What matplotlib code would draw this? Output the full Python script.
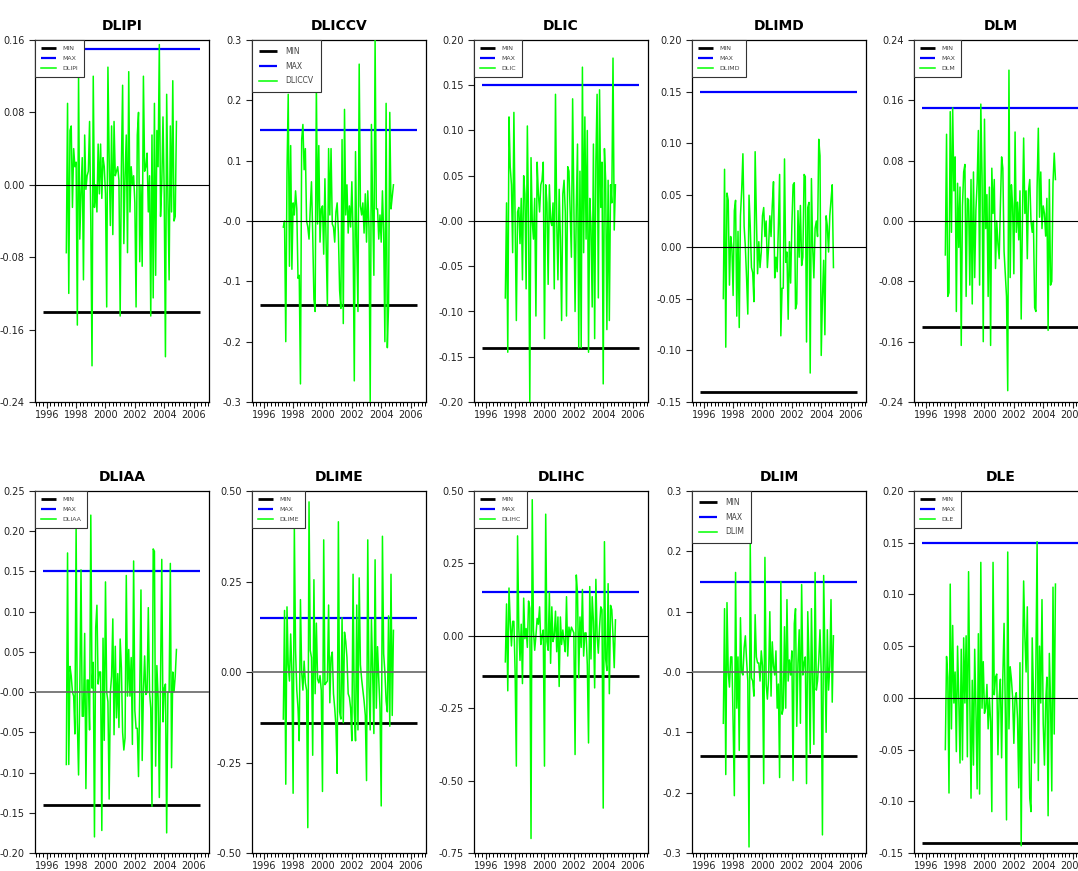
import matplotlib
matplotlib.use('Agg')
import matplotlib.pyplot as plt
from matplotlib.ticker import FixedLocator, FixedFormatter, MultipleLocator
import numpy as np
import pandas as pd

# monthly observations, May 1997 onwards
start_month = '1997-05'

min_level = -0.14
max_level = 0.15
band_start = 1995.75
band_end = 2006.45

names = ['DLIPI', 'DLICCV', 'DLIC', 'DLIMD', 'DLM',
         'DLIAA', 'DLIME', 'DLIHC', 'DLIM', 'DLE']

dlipi = [-0.075, 0.09, -0.12, 0.06, 0.065, -0.025, 0.04, 0.02,
         0.025, -0.155, 0.12, -0.06, -0.01, 0.03, -0.105, 0.055, -0.005, 0.01, 0.015, 0.07,
         -0.04, -0.2, 0.12, -0.025, 0.0, -0.03, 0.045, -0.01, 0.045, -0.015, 0.03, 0.02,
         -0.01, -0.135, 0.13, 0.03, -0.045, 0.065, -0.055, 0.07, 0.01, 0.015, 0.02, 0.005,
         -0.145, 0.02, 0.11, -0.065, 0.01, 0.055, -0.075, 0.125, -0.03, 0.02, 0.0, 0.01,
         -0.02, -0.135, 0.055, 0.08, -0.085, 0.0, -0.09, 0.12, 0.015, 0.02, 0.035, -0.03,
         0.01, -0.145, 0.055, -0.125, 0.09, -0.1, 0.06, 0.02, 0.155, -0.035, 0.0, 0.075,
         -0.01, -0.19, 0.1, -0.01, -0.105, 0.065, -0.03, 0.115, -0.04, -0.035, 0.07]

dliccv = [-0.01, 0.0, -0.2, 0.08, 0.21, -0.075, 0.125, -0.08,
          0.03, 0.01, 0.05, 0.02, -0.095, -0.09, -0.27, 0.135, 0.16, 0.085, 0.12, 0.0,
          -0.01, -0.03, 0.02, 0.065, -0.02, -0.13, -0.15, 0.225, -0.005, 0.125, -0.035, 0.02,
          0.025, -0.055, 0.07, -0.04, -0.14, 0.12, 0.01, 0.12, -0.005, -0.01, -0.035, 0.015,
          0.03, -0.02, -0.115, -0.145, 0.135, -0.17, 0.185, 0.01, 0.06, -0.02, 0.025, -0.01,
          0.065, -0.02, -0.265, 0.115, -0.04, -0.15, 0.26, 0.025, 0.01, 0.03, -0.02, 0.045,
          -0.035, 0.05, -0.01, -0.3, 0.16, 0.02, -0.09, 0.3, 0.02, 0.02, -0.03, 0.01,
          -0.035, 0.05, -0.02, -0.2, 0.195, -0.21, -0.14, 0.18, 0.02, 0.04, 0.06]

dlic = [-0.085, 0.02, -0.145, 0.115, 0.06, 0.04, -0.035, 0.12,
        0.0, -0.11, 0.01, 0.015, -0.025, 0.025, -0.065, 0.05, 0.03, -0.075, 0.105, 0.0,
        -0.2, 0.07, 0.0, -0.02, 0.025, -0.105, 0.065, 0.03, 0.01, 0.04, 0.045, 0.065,
        -0.13, 0.04, 0.02, -0.07, 0.04, 0.0, -0.005, 0.02, -0.075, 0.14, 0.0, -0.065,
        0.035, -0.02, -0.11, 0.03, 0.045, 0.01, -0.105, 0.06, 0.055, 0.01, -0.04, 0.135,
        0.02, -0.1, 0.015, 0.085, -0.14, 0.055, -0.14, 0.17, -0.035, 0.115, -0.02, 0.1,
        -0.145, 0.025, -0.005, -0.095, 0.085, -0.13, 0.065, 0.14, -0.085, 0.145, 0.015, 0.065,
        -0.18, 0.08, 0.045, -0.12, 0.045, -0.11, 0.04, 0.02, 0.18, -0.01, 0.04]

dlimd = [-0.05, 0.075, -0.097, 0.052, 0.045, -0.037, 0.01, 0.0,
         -0.047, 0.035, 0.045, -0.067, 0.015, -0.078, 0.03, 0.055, 0.09, 0.02, 0.0, -0.03,
         -0.065, 0.05, 0.02, -0.02, -0.025, -0.053, 0.092, 0.03, -0.026, 0.005, -0.02, -0.005,
         0.03, 0.038, 0.01, 0.025, -0.02, 0.0, 0.03, 0.01, 0.04, 0.063, -0.03, -0.01,
         -0.024, 0.02, 0.07, -0.086, -0.04, -0.04, 0.085, -0.015, -0.005, -0.07, 0.005, -0.035,
         0.02, 0.06, 0.062, -0.06, -0.055, 0.035, -0.01, 0.04, -0.018, -0.01, 0.07, 0.068,
         -0.092, 0.038, 0.043, -0.122, 0.066, 0.0, -0.03, 0.018, 0.025, 0.01, 0.104, 0.088,
         -0.105, -0.05, -0.013, -0.085, 0.03, 0.02, -0.005, 0.03, 0.045, 0.06, -0.02]

dlm = [-0.045, 0.115, -0.1, -0.095, 0.145, -0.015, 0.15, 0.04,
       0.085, -0.12, 0.05, -0.035, 0.045, -0.165, 0.02, 0.065, 0.075, -0.1, 0.03, 0.028,
       -0.085, 0.055, -0.11, 0.065, -0.075, 0.015, 0.05, 0.12, -0.085, 0.155, 0.06, -0.16,
       0.135, -0.01, 0.035, -0.1, 0.045, -0.165, 0.07, 0.01, 0.055, -0.063, 0.0, -0.03,
       -0.05, 0.02, 0.085, 0.07, -0.04, -0.07, -0.1, -0.225, 0.2, -0.075, 0.048, 0.02,
       -0.07, 0.118, -0.015, 0.025, -0.025, 0.04, -0.13, 0.0, 0.11, 0.01, 0.04, -0.05,
       0.04, 0.055, 0.0, -0.015, 0.0, -0.115, -0.12, 0.045, 0.123, 0.005, 0.065, -0.01,
       0.02, 0.01, -0.02, 0.03, -0.145, 0.055, -0.085, -0.08, 0.05, 0.09, 0.055]

dliaa = [-0.09, 0.173, -0.09, 0.032, 0.02, 0.0, -0.005, -0.052,
         0.205, -0.037, -0.103, 0.0, 0.152, -0.03, -0.03, 0.073, -0.12, 0.015, 0.015, -0.047,
         0.22, 0.005, 0.037, -0.18, 0.08, 0.108, 0.01, 0.025, 0.025, -0.172, 0.067, -0.06,
         0.137, 0.0, -0.012, -0.133, 0.0, 0.02, 0.091, -0.053, 0.057, -0.032, 0.023, -0.044,
         0.066, 0.03, -0.05, -0.072, -0.057, 0.145, -0.005, 0.053, -0.005, 0.043, -0.065, 0.163,
         -0.023, -0.045, -0.045, -0.105, 0.0, 0.127, -0.085, 0.0, 0.045, -0.003, 0.0, 0.105,
         0.0, -0.02, -0.142, 0.178, 0.175, -0.092, 0.033, -0.006, -0.131, 0.015, 0.165, -0.037,
         0.005, 0.01, -0.175, 0.0, 0.0, 0.16, -0.094, 0.025, 0.0, 0.02, 0.053]

dlime = [-0.13, 0.17, -0.31, 0.18, 0.02, -0.025, 0.105, 0.0,
         -0.335, 0.4, 0.06, -0.05, -0.1, -0.19, 0.2, 0.0, -0.05, 0.03, -0.03, -0.05,
         -0.43, 0.47, 0.06, 0.04, -0.23, 0.255, -0.06, 0.135, -0.02, -0.03, -0.01, -0.05,
         -0.33, 0.365, -0.035, -0.03, -0.025, 0.185, -0.085, 0.04, 0.055, -0.06, -0.1, -0.15,
         -0.28, 0.415, -0.11, -0.13, 0.15, -0.14, 0.11, 0.085, 0.04, -0.06, -0.07, -0.1,
         -0.19, 0.27, -0.11, -0.19, 0.185, -0.16, 0.26, 0.02, -0.02, -0.05, -0.08, -0.12,
         -0.3, 0.365, -0.04, -0.16, 0.145, 0.0, -0.17, 0.31, -0.1, 0.07, -0.02, -0.1,
         -0.37, 0.375, 0.05, 0.0, -0.08, -0.11, 0.155, -0.15, 0.27, -0.12, 0.115]

dlihc = [-0.09, 0.11, -0.19, 0.165, 0.05, -0.035, 0.05, 0.05,
         -0.125, -0.45, 0.345, 0.03, -0.085, 0.04, -0.165, 0.13, -0.01, 0.025, -0.04, 0.12,
         0.095, -0.7, 0.47, 0.02, -0.05, 0.0, 0.06, 0.04, 0.1, -0.03, 0.0, 0.02,
         -0.45, 0.42, -0.02, -0.05, 0.15, -0.095, 0.1, -0.02, 0.0, 0.085, -0.055, 0.065,
         -0.175, 0.065, -0.03, 0.02, -0.02, -0.055, 0.135, -0.07, 0.03, 0.0, 0.03, 0.02,
         0.01, -0.41, 0.21, 0.145, -0.145, 0.065, -0.04, 0.16, -0.07, 0.01, 0.01, -0.1,
         -0.37, 0.17, -0.08, 0.135, 0.05, -0.18, 0.195, 0.0, -0.06, 0.03, 0.1, 0.09,
         -0.595, 0.325, -0.08, -0.12, 0.18, -0.2, 0.105, 0.09, 0.0, -0.11, 0.055]

dlim = [-0.085, 0.105, -0.17, 0.115, 0.0, -0.025, 0.025, 0.025,
        -0.085, -0.205, 0.165, -0.06, 0.025, -0.13, 0.09, 0.0, -0.005, 0.04, 0.06, 0.02,
        -0.015, -0.29, 0.215, -0.01, -0.015, -0.04, 0.095, 0.025, 0.015, 0.015, -0.015, 0.035,
        0.01, -0.185, 0.19, -0.02, -0.045, -0.01, 0.1, -0.04, 0.05, 0.01, -0.005, 0.035,
        -0.06, -0.02, -0.175, 0.15, -0.07, -0.06, 0.075, -0.06, 0.12, -0.015, 0.02, -0.005,
        0.035, -0.18, 0.08, 0.105, -0.09, 0.015, 0.07, -0.085, 0.145, -0.005, 0.015, 0.025,
        -0.185, 0.1, 0.02, -0.135, 0.105, -0.015, -0.12, 0.165, -0.03, -0.015, 0.02, 0.07,
        0.0, -0.27, 0.16, 0.025, -0.1, 0.07, -0.03, 0.01, 0.12, -0.05, 0.06]

dle = [-0.05, 0.04, 0.02, -0.092, 0.11, -0.03, 0.07, -0.005,
       0.025, -0.052, 0.05, 0.0, -0.063, 0.047, -0.06, 0.058, -0.005, 0.06, -0.057, 0.122,
       0.0, -0.097, 0.017, -0.065, 0.047, -0.01, -0.088, 0.062, -0.093, 0.131, -0.01, 0.035,
       -0.015, -0.01, 0.013, -0.03, 0.0, -0.023, -0.11, 0.131, 0.003, 0.02, 0.023, -0.055,
       0.0, 0.018, -0.058, 0.02, 0.072, -0.01, -0.118, 0.141, -0.03, 0.03, 0.018, 0.0,
       -0.044, 0.0, 0.005, -0.02, -0.087, 0.034, -0.143, 0.015, 0.113, 0.06, 0.025, 0.088,
       -0.02, -0.097, -0.11, 0.058, 0.005, -0.063, 0.03, 0.151, -0.08, 0.05, -0.005, 0.095,
       -0.025, -0.065, -0.005, 0.02, -0.114, 0.043, -0.005, -0.09, 0.107, -0.035, 0.11]

series = [dlipi, dliccv, dlic, dlimd, dlm, dliaa, dlime, dlihc, dlim, dle]

# y axis: (bottom, top, step, decimals, label shown at zero)
y_scales = [(-0.24, 0.16, 0.08, 2, '0.00'),
            (-0.3, 0.3, 0.1, 1, '-0.0'),
            (-0.20, 0.20, 0.05, 2, '-0.00'),
            (-0.15, 0.20, 0.05, 2, '0.00'),
            (-0.24, 0.24, 0.08, 2, '0.00'),
            (-0.20, 0.25, 0.05, 2, '-0.00'),
            (-0.50, 0.50, 0.25, 2, '0.00'),
            (-0.75, 0.50, 0.25, 2, '0.00'),
            (-0.3, 0.3, 0.1, 1, '-0.0'),
            (-0.15, 0.20, 0.05, 2, '0.00')]

FONT = ['Liberation Sans Narrow', 'DejaVu Sans']


def to_decimal_year(dates):
    return dates.year + (dates.month - 1) / 12.0


def draw_panel(ax, name, values, scale, legend_size, zero_color):
    lo, hi, step, dec, zero_label = scale
    dates = pd.date_range(start_month, periods=len(values), freq='MS')
    x = to_decimal_year(dates)

    h_min = ax.hlines(min_level, band_start, band_end, color='black', lw=2.0, zorder=2)
    h_max = ax.hlines(max_level, band_start, band_end, color='#0000ff', lw=1.6, zorder=2)
    h_ser, = ax.plot(x, values, color='#00ff00', lw=1.1, zorder=3)
    zero_lw = 0.8 if zero_color == 'black' else 1.2
    ax.axhline(0, color=zero_color, lw=zero_lw, zorder=4)

    ax.set_xlim(1995.2, 2007.05)
    ax.set_ylim(lo, hi)

    ticks = np.round(np.arange(lo, hi + step / 2, step), 4)
    labels = [zero_label if abs(t) < 1e-9 else f'{t:.{dec}f}' for t in ticks]
    ax.yaxis.set_major_locator(FixedLocator(ticks))
    ax.yaxis.set_major_formatter(FixedFormatter(labels))

    ax.xaxis.set_major_locator(MultipleLocator(2))
    ax.xaxis.set_minor_locator(MultipleLocator(0.25))
    ax.xaxis.set_major_formatter(lambda v, p: f'{v:.0f}')

    ax.tick_params(axis='both', which='major', direction='out', length=4,
                   width=0.8, labelsize=7, colors='#222222')
    ax.tick_params(axis='x', which='major', pad=2)
    ax.tick_params(axis='x', which='minor', direction='out', length=3, width=0.7)
    for lab in ax.get_xticklabels() + ax.get_yticklabels():
        lab.set_family(FONT)

    for sp in ax.spines.values():
        sp.set_linewidth(0.9)

    ax.set_title(name, fontsize=10, fontweight='bold', family=FONT, pad=7)

    leg = ax.legend([h_min, h_max, h_ser], ['MIN', 'MAX', name],
                    loc='upper left', bbox_to_anchor=(0, 1), borderaxespad=0,
                    fancybox=False, framealpha=1, edgecolor='#333333',
                    prop={'family': FONT, 'size': legend_size},
                    handlelength=2.4, handletextpad=1.1, labelspacing=0.75,
                    borderpad=0.9)
    leg.get_frame().set_linewidth(0.8)
    for t in leg.get_texts():
        t.set_color('#444444')
    leg.set_zorder(5)


def main():
    fig = plt.figure(figsize=(10.78, 8.71), dpi=100)
    W, H = 1078.0, 871.0

    col_left = [35, 252, 474, 692, 914]
    row_top = [40, 491]
    panel_w, panel_h = 174, 362
    legend_sizes = [4.5, 5.5, 4.5, 4.5, 4.5, 4.5, 4.5, 4.5, 5.5, 4.5]
    zero_colors = ['black'] * 5 + ['#666666', '#666666', 'black', '#666666', 'black']

    for k, name in enumerate(names):
        row, col = divmod(k, 5)
        rect = [col_left[col] / W, 1 - (row_top[row] + panel_h) / H,
                panel_w / W, panel_h / H]
        ax = fig.add_axes(rect)
        draw_panel(ax, name, series[k], y_scales[k], legend_sizes[k], zero_colors[k])

    fig.savefig('out.png', dpi=100)


if __name__ == '__main__':
    main()
